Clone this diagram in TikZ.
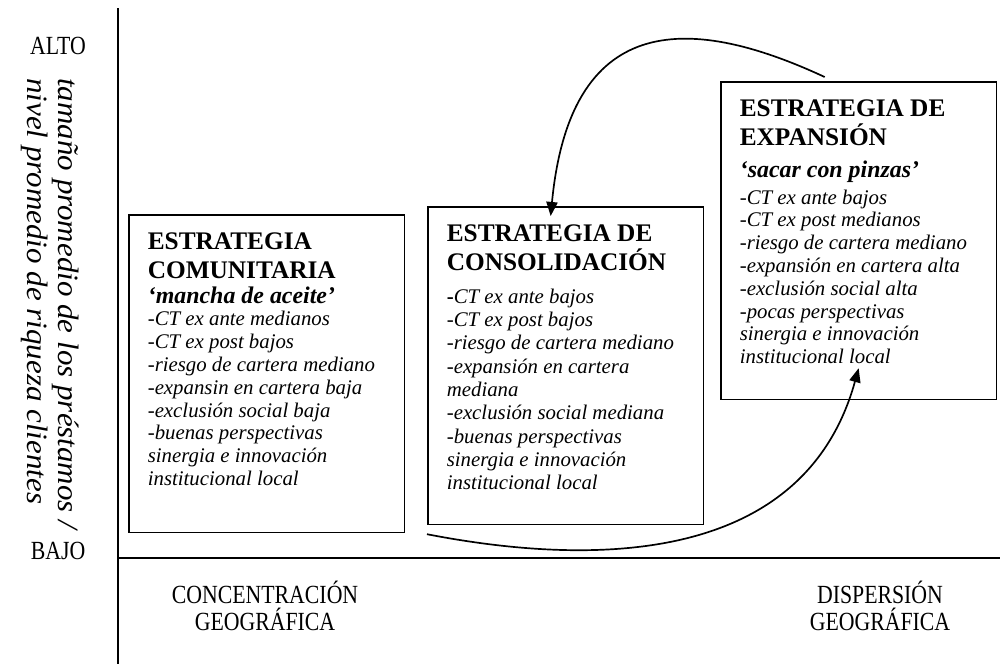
\documentclass[tikz,border=0pt]{standalone}
\usepackage{fontspec}
\setmainfont{Liberation Serif}
\usetikzlibrary{positioning,arrows.meta,calc}

\newcommand{\boxtitle}{\fontsize{18}{21}\selectfont\bfseries}
\newcommand{\boxslogan}{\fontsize{17}{17.5}\selectfont\bfseries\itshape}
\newcommand{\boxitems}{\fontsize{14.8}{16.2}\selectfont\mdseries\itshape}

\begin{document}
\begin{tikzpicture}[x=0.025cm, y=-0.025cm,
  box/.style={draw, line width=1.2pt, anchor=north west, inner xsep=13.5pt, inner ysep=12.4pt,
    execute at begin node={\begin{minipage}[c][201pt][t]{169pt}\raggedright},
    execute at end node={\end{minipage}}},
  axis/.style={line width=1.4pt},
  conn/.style={line width=1.2pt, -{Triangle[length=10pt,width=8pt]}},
  lbl/.style={font=\fontsize{15.5}{16.4}\selectfont, align=center, inner sep=0pt, yscale=1.2}
]
  \useasboundingbox (0,0) rectangle (1000,664);

  % ejes
  \draw[axis] (118,8) -- (118,664);
  \draw[axis] (118,558) -- (1000,558);

  \node[lbl] (alto) at (58,46) {ALTO};
  \node[lbl] (bajo) at (58,551) {BAJO};
  \node[rotate=-90, xscale=1.05, anchor=north west, align=left, inner sep=0pt,
    font=\fontsize{21}{22}\selectfont\itshape] (yaxis) at (79,78)
    {tamaño promedio de los préstamos /\\nivel promedio de riqueza clientes};
  \node[lbl] (conc) at (265,606) {CONCENTRACIÓN\\GEOGRÁFICA};
  \node[lbl] (disp) at (880,606) {DISPERSIÓN\\GEOGRÁFICA};

  % estrategias
  \node[box] (comu) at (128,214) {\boxtitle ESTRATEGIA\\COMUNITARIA\par
    \boxslogan ‘mancha de aceite’\par
    \boxitems -CT ex ante medianos\\-CT ex post bajos\\-riesgo de cartera mediano\\
    -expansin en cartera baja\\-exclusión social baja\\-buenas perspectivas\\
    sinergia e innovación\\institucional local\par};
  \node[box] (cons) at (427,206) {\boxtitle ESTRATEGIA DE\\CONSOLIDACIÓN\par
    \vspace{6.5pt}
    \boxitems\fontsize{14.8}{16.6}\selectfont \textup{\textbf{-}}CT ex ante bajos\\-CT ex post bajos\\-riesgo de cartera mediano\\
    -expansión en cartera\\mediana\\-exclusión social mediana\\-buenas perspectivas\\
    sinergia e innovación\\institucional local\par};
  \node[box] (expa) at (720,81) {\boxtitle ESTRATEGIA DE\\EXPANSIÓN\par
    \vspace{5pt}
    \boxslogan ‘sacar con pinzas’\par
    \vspace{3pt}
    \boxitems -CT ex ante bajos\\-CT ex post medianos\\-riesgo de cartera mediano\\
    -expansión en cartera alta\\-exclusión social alta\\-pocas perspectivas\\
    sinergia e innovación\\institucional local\par};

  % flechas
  \coordinate (loopstart) at ($(expa.north)+(-34,-4)$);
  \coordinate (looptip) at ($(cons.north)+(-15,10)$);
  \coordinate (swingstart) at ($(cons.south west)+(0,9)$);
  \coordinate (swingtip) at ($(expa.south)+(0,-32)$);
  \draw[conn] (loopstart) .. controls (685,12) and (570,15) .. (looptip);
  \draw[conn] (swingstart) .. controls (560,560) and (800,580) .. (swingtip);
\end{tikzpicture}
\end{document}
